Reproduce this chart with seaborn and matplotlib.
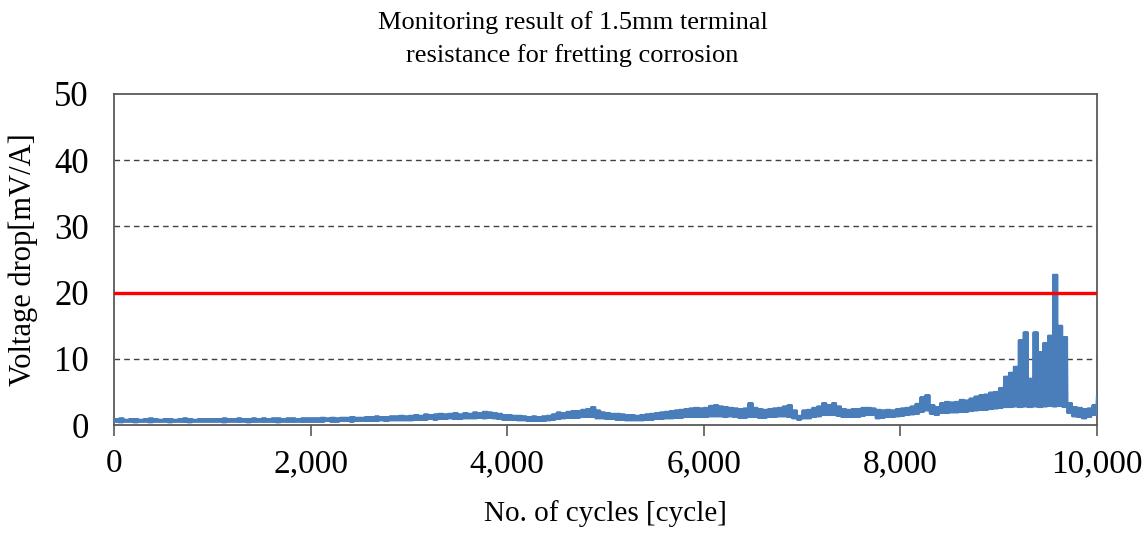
import numpy as np
import pandas as pd
import matplotlib
matplotlib.use("Agg")
import matplotlib.pyplot as plt
import seaborn as sns

# ---------------- data ----------------
cycles = list(range(0, 10000, 50))  # sample positions, 50-cycle bins
# lower / upper excursion of the voltage-drop trace in each bin [mV/A]
v_low = [
    0.5, 0.4, 0.5, 0.5, 0.4, 0.5, 0.5, 0.4, 0.5, 0.5, 0.5, 0.4, 0.5, 0.5, 0.5, 0.4, 0.5, 0.5, 0.5, 0.5,
    0.5, 0.5, 0.4, 0.5, 0.5, 0.5, 0.5, 0.4, 0.5, 0.5, 0.5, 0.5, 0.5, 0.4, 0.5, 0.5, 0.5, 0.5, 0.5, 0.5,
    0.5, 0.5, 0.5, 0.6, 0.5, 0.5, 0.6, 0.6, 0.5, 0.6, 0.6, 0.6, 0.6, 0.6, 0.7, 0.6, 0.7, 0.7, 0.7, 0.7,
    0.7, 0.8, 0.8, 0.8, 0.9, 0.8, 0.9, 0.9, 1.0, 0.9, 0.9, 1.0, 1.0, 1.0, 1.1, 1.0, 1.1, 1.0, 0.9, 0.8,
    0.8, 0.8, 0.7, 0.7, 0.6, 0.6, 0.6, 0.6, 0.7, 0.8, 0.9, 1.0, 1.1, 1.1, 1.1, 1.2, 1.2, 1.2, 1.0, 1.0,
    0.9, 0.9, 0.8, 0.8, 0.7, 0.7, 0.7, 0.7, 0.8, 0.8, 0.9, 0.9, 1.0, 1.0, 1.1, 1.1, 1.2, 1.2, 1.2, 1.2,
    1.2, 1.3, 1.3, 1.3, 1.2, 1.3, 1.2, 1.1, 1.1, 1.2, 1.2, 1.1, 1.1, 1.2, 1.2, 1.3, 1.3, 1.2, 1.0, 0.8,
    1.0, 1.0, 1.2, 1.3, 1.5, 1.5, 1.5, 1.4, 1.2, 1.2, 1.2, 1.2, 1.4, 1.5, 1.5, 1.0, 1.1, 1.2, 1.2, 1.3,
    1.4, 1.5, 1.6, 1.7, 2.0, 2.2, 1.7, 1.5, 1.8, 1.8, 1.9, 1.9, 2.0, 2.0, 2.1, 2.2, 2.3, 2.3, 2.4, 2.5,
    2.6, 2.7, 2.7, 2.8, 2.7, 2.8, 2.7, 2.8, 2.7, 2.8, 2.9, 2.8, 2.9, 2.7, 1.8, 1.3, 1.2, 1.0, 1.2, 1.5,
]
v_high = [
    0.9, 1.0, 0.8, 0.9, 0.9, 0.8, 0.9, 1.0, 0.9, 0.8, 0.9, 0.9, 0.8, 0.9, 1.0, 0.9, 0.8, 0.9, 0.9, 0.9,
    0.9, 0.9, 1.0, 0.9, 0.9, 1.0, 0.9, 0.9, 1.0, 0.9, 1.0, 0.9, 1.0, 1.0, 0.9, 1.0, 1.0, 0.9, 1.0, 1.0,
    1.0, 1.0, 1.1, 1.0, 1.1, 1.0, 1.1, 1.1, 1.2, 1.1, 1.1, 1.2, 1.2, 1.3, 1.2, 1.2, 1.3, 1.3, 1.4, 1.3,
    1.4, 1.5, 1.4, 1.6, 1.5, 1.6, 1.7, 1.6, 1.7, 1.8, 1.6, 1.8, 1.7, 1.9, 1.8, 2.0, 1.9, 1.8, 1.7, 1.5,
    1.5, 1.4, 1.4, 1.3, 1.2, 1.3, 1.2, 1.3, 1.4, 1.6, 1.9, 1.8, 2.0, 2.1, 2.1, 2.3, 2.4, 2.7, 2.2, 1.9,
    1.8, 1.7, 1.7, 1.6, 1.5, 1.5, 1.4, 1.5, 1.6, 1.7, 1.8, 1.9, 2.0, 2.1, 2.2, 2.3, 2.4, 2.5, 2.6, 2.5,
    2.6, 2.9, 3.0, 2.8, 2.7, 2.6, 2.5, 2.4, 2.5, 3.3, 2.6, 2.4, 2.3, 2.4, 2.5, 2.6, 2.8, 3.0, 2.2, 1.4,
    2.2, 2.3, 2.6, 2.8, 3.3, 3.0, 3.3, 2.8, 2.4, 2.3, 2.4, 2.4, 2.6, 2.6, 2.5, 2.3, 2.2, 2.3, 2.2, 2.4,
    2.5, 2.6, 2.8, 3.2, 4.2, 4.5, 3.0, 2.7, 3.3, 3.5, 3.4, 3.5, 3.8, 3.7, 4.0, 4.3, 4.5, 4.6, 4.9, 5.0,
    5.6, 7.3, 7.9, 8.8, 12.8, 14.0, 7.0, 14.0, 11.0, 12.4, 13.5, 22.7, 15.0, 13.3, 3.3, 2.7, 2.6, 2.4, 2.5, 3.0,
]
end_cycle = 10000
end_value = 4.5

threshold = 20
grid_levels = [10, 30, 40]
x_ticks = [0, 2000, 4000, 6000, 8000, 10000]
x_tick_labels = ["0", "2,000", "4,000", "6,000", "8,000", "10,000"]
y_ticks = [0, 10, 20, 30, 40, 50]
title = "Monitoring result of 1.5mm terminal\nresistance for fretting corrosion"
x_label = "No. of cycles [cycle]"
y_label = "Voltage drop[mV/A]"

# ---------------- build the trace: oscillate between low and high in each bin ----------------
xs, ys = [], []
for c, lo, hi in zip(cycles, v_low, v_high):
    for k in range(10):
        xs.append(c + 5 * k)
        ys.append(lo if k % 2 == 0 else hi)
xs.append(end_cycle)
ys.append(end_value)
df = pd.DataFrame({"cycle": xs, "vdrop": ys})

# ---------------- plot ----------------
sns.set_theme(style="white")
plt.rcParams["font.family"] = ["Liberation Serif", "DejaVu Serif"]

fig = plt.figure(figsize=(11.45, 5.33), dpi=100)
ax = fig.add_axes([114 / 1145, 1 - 425 / 533, (1097 - 114) / 1145, (425 - 94) / 533])

for g in grid_levels:
    ax.axhline(g, color="#404040", lw=1.0, ls=(0, (4, 3)), zorder=1)

sns.lineplot(data=df, x="cycle", y="vdrop", ax=ax, color="#4A7EBB", lw=1.5,
             sort=False, estimator=None, zorder=3)
ax.axhline(threshold, color="#FF0000", lw=2.4, zorder=4)

ax.set_xlim(0, 10000)
ax.set_ylim(0, 50)
ax.set_xticks(x_ticks)
ax.set_xticklabels(x_tick_labels)
ax.set_yticks(y_ticks)
ax.tick_params(axis="x", direction="out", length=8, width=1.2, color="#595959",
               pad=9, labelsize=24, labelcolor="black", bottom=True)
ax.tick_params(axis="y", length=0, pad=18, labelsize=25, labelcolor="black", left=False)

for s in ax.spines.values():
    s.set_color("#595959")
    s.set_linewidth(1.3)
    s.set_visible(True)

ax.set_xlabel(x_label, fontsize=21, color="black")
ax.set_ylabel(y_label, fontsize=22, color="black")
ax.xaxis.set_label_coords(0.5, -0.228)
ax.yaxis.set_label_coords(-0.077, 0.5)

fig.text(0.5, 1 - 11 / 533, title, ha="center", va="top", fontsize=19,
         linespacing=1.55, color="black")

fig.savefig("out.png", dpi=100)
